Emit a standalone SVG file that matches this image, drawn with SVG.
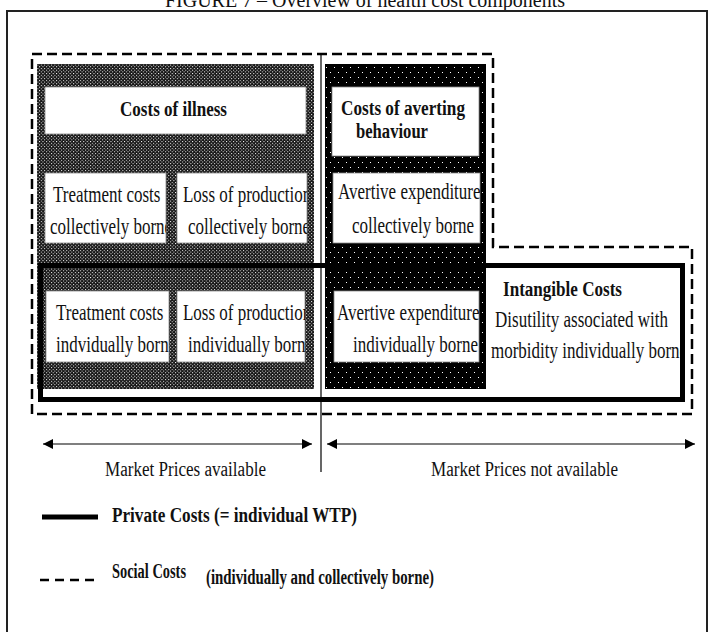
<svg xmlns="http://www.w3.org/2000/svg" width="709" height="632" viewBox="0 0 709 632">
<style>
.r{font-family:"Liberation Serif","Times New Roman",serif;font-size:22.5px;fill:#111}
.b{font-family:"Liberation Serif","Times New Roman",serif;font-size:20px;font-weight:bold;fill:#111}
.m{font-family:"Liberation Serif","Times New Roman",serif;font-size:20px;fill:#111}
.wb{fill:#fff;stroke:#888;stroke-width:0.8}
.dash{fill:none;stroke:#000;stroke-width:2.5;stroke-dasharray:10 5}
.thick{fill:none;stroke:#000;stroke-width:5}
.thin{stroke:#000;stroke-width:1.2;fill:none}
</style>
<defs>
<pattern id="dense" width="3.4" height="3.4" patternUnits="userSpaceOnUse">
<rect width="3.4" height="3.4" fill="#151515"/>
<rect x="0" y="0" width="1" height="1" fill="#fff"/>
<rect x="1.7" y="1.7" width="1" height="1" fill="#fff"/>
</pattern>
<pattern id="sparse" width="8" height="10" patternUnits="userSpaceOnUse">
<rect width="8" height="10" fill="#000"/>
<rect x="2" y="2" width="1" height="1" fill="#fff"/>
<rect x="6" y="7" width="1" height="1" fill="#fff"/>
</pattern>
<marker id="ah" viewBox="0 0 10 10" refX="10" refY="5" markerWidth="10" markerHeight="10" markerUnits="userSpaceOnUse" orient="auto-start-reverse">
<path d="M0,0 L10,5 L0,10 Z" fill="#000"/>
</marker>
<clipPath id="cTC"><rect x="45" y="173" width="121" height="70"/></clipPath>
<clipPath id="cLC"><rect x="177" y="173" width="130" height="70"/></clipPath>
<clipPath id="cTI"><rect x="46" y="291" width="123" height="71"/></clipPath>
<clipPath id="cLI"><rect x="177" y="291" width="128" height="71"/></clipPath>
<clipPath id="cAC"><rect x="333" y="173" width="147" height="70"/></clipPath>
<clipPath id="cAI"><rect x="334" y="291" width="145" height="71"/></clipPath>
<clipPath id="cIN"><rect x="480" y="268" width="200" height="129"/></clipPath>
</defs>
<rect width="709" height="632" fill="#fff"/>
<text class="m" x="165" y="7" textLength="400" lengthAdjust="spacingAndGlyphs">FIGURE 7 – Overview of health cost components</text>
<rect x="7" y="11" width="700" height="640" fill="none" stroke="#222" stroke-width="2"/>

<g id="costs-of-illness">
<rect x="37" y="64" width="277" height="325" fill="url(#dense)"/>
<rect class="wb" x="45" y="87" width="261" height="47"/>
<text class="b" x="120" y="116" textLength="107" lengthAdjust="spacingAndGlyphs">Costs of illness</text>
</g>
<g id="treatment-collective">
<rect class="wb" x="45" y="173" width="121" height="70"/>
<g clip-path="url(#cTC)">
<text class="r" transform="translate(53 202) scale(0.755 1)">Treatment costs</text>
<text class="r" transform="translate(50 234) scale(0.755 1)">collectively borne</text>
</g>
</g>
<g id="production-collective">
<rect class="wb" x="177" y="173" width="130" height="70"/>
<g clip-path="url(#cLC)">
<text class="r" transform="translate(183 202) scale(0.755 1)">Loss of production</text>
<text class="r" transform="translate(188 234) scale(0.755 1)">collectively borne</text>
</g>
</g>
<g id="treatment-individual">
<rect class="wb" x="46" y="291" width="123" height="71"/>
<g clip-path="url(#cTI)">
<text class="r" transform="translate(56 320) scale(0.755 1)">Treatment costs</text>
<text class="r" transform="translate(56 352) scale(0.755 1)">indvidually borne</text>
</g>
</g>
<g id="production-individual">
<rect class="wb" x="177" y="291" width="128" height="71"/>
<g clip-path="url(#cLI)">
<text class="r" transform="translate(183 320) scale(0.755 1)">Loss of production</text>
<text class="r" transform="translate(188 352) scale(0.755 1)">individually borne</text>
</g>
</g>

<g id="costs-of-averting">
<rect x="325" y="64" width="161" height="325" fill="url(#sparse)"/>
<rect class="wb" x="332" y="87" width="147" height="69"/>
<text class="b" x="341" y="115" textLength="124" lengthAdjust="spacingAndGlyphs">Costs of averting</text>
<text class="b" x="356" y="138" textLength="72" lengthAdjust="spacingAndGlyphs">behaviour</text>
</g>
<g id="averting-collective">
<rect class="wb" x="333" y="173" width="147" height="70"/>
<g clip-path="url(#cAC)">
<text class="r" transform="translate(338 199) scale(0.755 1)">Avertive expenditures</text>
<text class="r" transform="translate(352 233) scale(0.755 1)">collectively borne</text>
</g>
</g>
<g id="averting-individual">
<rect class="wb" x="334" y="291" width="145" height="71"/>
<g clip-path="url(#cAI)">
<text class="r" transform="translate(337 320) scale(0.755 1)">Avertive expenditures</text>
<text class="r" transform="translate(353 352) scale(0.755 1)">individually borne</text>
</g>
</g>

<g id="intangible">
<text class="b" x="503" y="296" textLength="119" lengthAdjust="spacingAndGlyphs">Intangible Costs</text>
<g clip-path="url(#cIN)">
<text class="r" x="495" y="327" textLength="173" lengthAdjust="spacingAndGlyphs">Disutility associated with</text>
<text class="r" transform="translate(491 358) scale(0.755 1)">morbidity individually borne</text>
</g>
</g>

<g id="connectors">
<rect id="private-costs" class="thick" x="40.5" y="265.5" width="642" height="134"/>
<path id="social-costs" class="dash" d="M32,54 H493 V247 H692 V414 H32 Z"/>
<line class="thin" x1="321" y1="54" x2="321" y2="472"/>
<line class="thin" x1="43" y1="444" x2="312" y2="444" marker-start="url(#ah)" marker-end="url(#ah)"/>
<line class="thin" x1="327" y1="444" x2="695" y2="444" marker-start="url(#ah)" marker-end="url(#ah)"/>
</g>

<g id="labels">
<text class="m" x="105" y="476" textLength="161" lengthAdjust="spacingAndGlyphs">Market Prices available</text>
<text class="m" x="431" y="476" textLength="187" lengthAdjust="spacingAndGlyphs">Market Prices not available</text>
</g>

<g id="legend">
<line x1="42" y1="517" x2="98" y2="517" stroke="#000" stroke-width="5"/>
<text class="b" x="112" y="522" textLength="245" lengthAdjust="spacingAndGlyphs">Private Costs (= individual WTP)</text>
<line x1="40" y1="580" x2="98" y2="580" stroke="#000" stroke-width="2.5" stroke-dasharray="9 6"/>
<text class="b" x="112" y="578" textLength="74" lengthAdjust="spacingAndGlyphs">Social Costs</text>
<text class="b" x="206" y="584" textLength="228" lengthAdjust="spacingAndGlyphs">(individually and collectively borne)</text>
</g>
</svg>
